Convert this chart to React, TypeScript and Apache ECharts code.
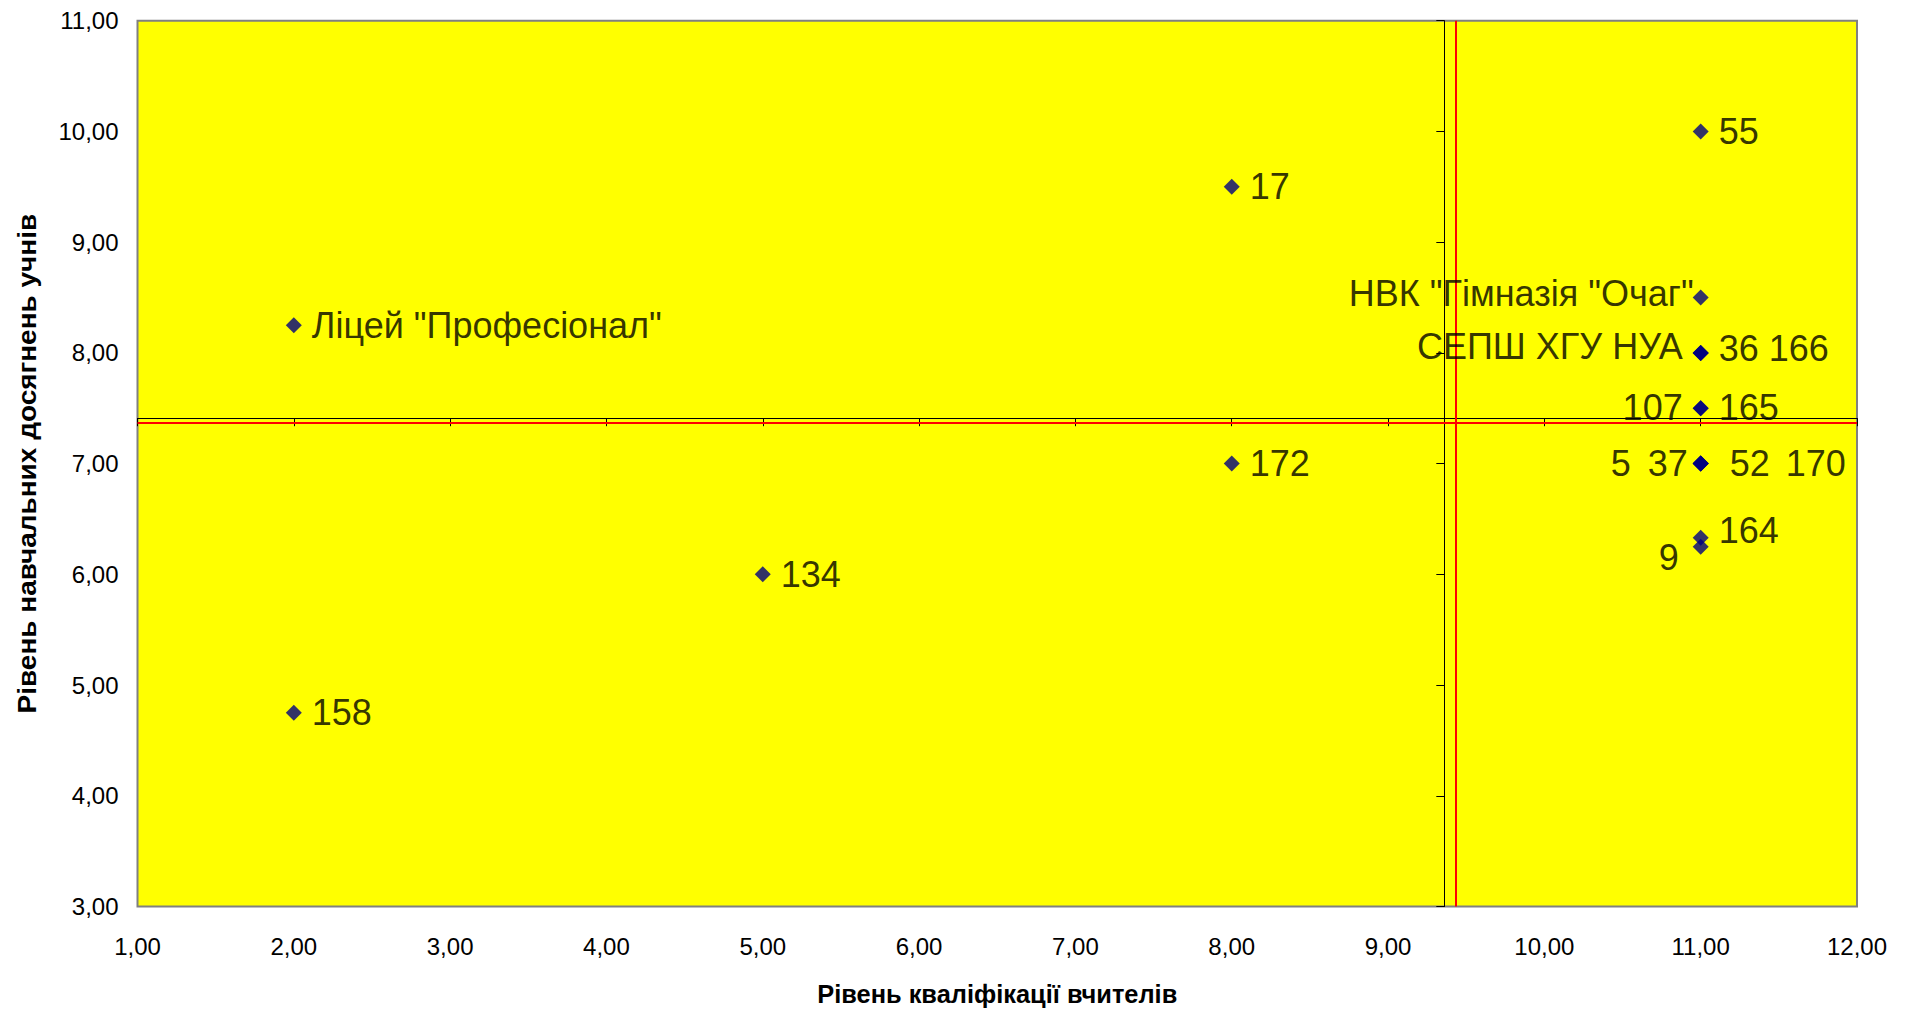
import React, { useEffect, useRef } from "react";
import * as echarts from "echarts";

// ---- Data ----
const POINT_NAMES = [
  "55",
  "17",
  'Ліцей "Професіонал"',
  'НВК "Гімназія "Очаг"',
  "СЕПШ ХГУ НУА",
  "36",
  "166",
  "107",
  "165",
  "5",
  "37",
  "52",
  "170",
  "164",
  "9",
  "172",
  "134",
  "158",
];
const TEACHER_LEVEL = [11, 8, 2, 11, 11, 11, 11, 11, 11, 11, 11, 11, 11, 11, 11, 8, 5, 2];
const STUDENT_LEVEL = [10, 9.5, 8.25, 8.5, 8, 8, 8, 7.5, 7.5, 7, 7, 7, 7, 6.33, 6.25, 7, 6, 4.75];

const X_MIN = 1;
const X_MAX = 12;
const Y_MIN = 3;
const Y_MAX = 11;

// where the axes cross each other
const AXIS_CROSS_X = 9.36;
const AXIS_CROSS_Y = 7.41;
// red reference lines
const REF_X = 9.43;
const REF_Y = 7.37;

const X_TITLE = "Рівень кваліфікації вчителів";
const Y_TITLE = "Рівень навчальних досягнень учнів";

// ---- Styling ----
const FONT = "'Liberation Sans', Arial, sans-serif";
const W = 1908;
const H = 1013;
const GRID = { left: 137.5, right: 51, top: 20.7, bottom: 106.5 };

const LABEL_LAYOUT: Record<string, { position?: string; dx?: number; dy?: number }> = {
  'НВК "Гімназія "Очаг"': { position: "left", dx: 11, dy: -4 },
  "СЕПШ ХГУ НУА": { position: "left", dx: 0, dy: -6 },
  "36": { dy: -4 },
  "166": { dx: 50, dy: -4 },
  "107": { position: "left", dy: -1 },
  "165": { dy: -1 },
  "5": { position: "left", dx: -52 },
  "37": { position: "left", dx: 5 },
  "52": { dx: 11 },
  "170": { dx: 67 },
  "164": { dy: -7 },
  "9": { position: "left", dx: -4, dy: 11 },
};

const fmt = (v: number) => v.toFixed(2).replace(".", ",");

export default function App() {
  const ref = useRef<HTMLDivElement>(null);

  useEffect(() => {
    if (!ref.current) return;
    const chart = echarts.init(ref.current, undefined, { renderer: "svg" });

    const gridW = W - GRID.left - GRID.right;
    const gridH = H - GRID.top - GRID.bottom;
    const xLineOffset = -((AXIS_CROSS_Y - Y_MIN) / (Y_MAX - Y_MIN)) * gridH;
    const yLineOffset = -((AXIS_CROSS_X - X_MIN) / (X_MAX - X_MIN)) * gridW;

    const data = POINT_NAMES.map((name, i) => {
      const lay = LABEL_LAYOUT[name] || {};
      return {
        name,
        value: [TEACHER_LEVEL[i], STUDENT_LEVEL[i]],
        label: { position: lay.position || "right" },
      };
    });

    const decoAxisCommon = {
      type: "value" as const,
      axisLabel: { show: false },
      splitLine: { show: false },
      axisTick: { show: true, length: 8, lineStyle: { color: "#000", width: 1 } },
      axisLine: { show: true, onZero: false, lineStyle: { color: "#000", width: 1 } },
    };

    chart.setOption({
      animation: false,
      backgroundColor: "#ffffff",
      textStyle: { fontFamily: FONT },
      grid: {
        left: GRID.left,
        right: GRID.right,
        top: GRID.top,
        bottom: GRID.bottom,
        show: true,
        backgroundColor: "#FFFF00",
        borderColor: "#808080",
        borderWidth: 2,
      },
      graphic: [
        {
          type: "text",
          x: 28,
          y: GRID.top + gridH / 2,
          rotation: Math.PI / 2,
          scaleX: 1.12,
          style: {
            text: Y_TITLE,
            font: `bold 25px ${FONT}`,
            fill: "#000",
            textAlign: "center",
            textVerticalAlign: "middle",
          },
        },
      ],
      xAxis: [
        {
          type: "value",
          min: X_MIN,
          max: X_MAX,
          interval: 1,
          position: "bottom",
          axisLine: { show: false },
          axisTick: { show: false },
          splitLine: { show: false },
          axisLabel: {
            formatter: fmt,
            fontSize: 24,
            color: "#000",
            margin: 28,
            fontFamily: FONT,
          },
          name: X_TITLE,
          nameLocation: "middle",
          nameGap: 75,
          nameTextStyle: { fontWeight: "bold", fontSize: 25.4, color: "#000", fontFamily: FONT },
        },
        {
          ...decoAxisCommon,
          min: X_MIN,
          max: X_MAX,
          interval: 1,
          position: "bottom",
          offset: xLineOffset,
        },
      ],
      yAxis: [
        {
          type: "value",
          min: Y_MIN,
          max: Y_MAX,
          interval: 1,
          position: "left",
          axisLine: { show: false },
          axisTick: { show: false },
          splitLine: { show: false },
          axisLabel: {
            formatter: fmt,
            fontSize: 24,
            color: "#000",
            margin: 19,
            fontFamily: FONT,
          },
        },
        {
          ...decoAxisCommon,
          min: Y_MIN,
          max: Y_MAX,
          interval: 1,
          position: "left",
          offset: yLineOffset,
        },
      ],
      series: [
        {
          type: "scatter",
          xAxisIndex: 0,
          yAxisIndex: 0,
          symbol: "diamond",
          symbolSize: 16,
          itemStyle: { color: "#000080" },
          z: 5,
          label: {
            show: true,
            formatter: "{b}",
            fontSize: 36,
            color: "#000",
            distance: 10,
            fontFamily: FONT,
          },
          labelLayout: (params: any) => {
            const lay = LABEL_LAYOUT[POINT_NAMES[params.dataIndex]] || {};
            return { dx: lay.dx || 0, dy: lay.dy || 0, hideOverlap: false };
          },
          data,
          markLine: {
            silent: true,
            symbol: "none",
            label: { show: false },
            lineStyle: { color: "#FF0000", width: 2, type: "solid" },
            data: [{ xAxis: REF_X }, { yAxis: REF_Y }],
          },
        },
      ],
    });

    return () => chart.dispose();
  }, []);

  return (
    <div
      ref={ref}
      style={{ position: "fixed", left: 0, top: 0, width: W, height: H }}
    />
  );
}
